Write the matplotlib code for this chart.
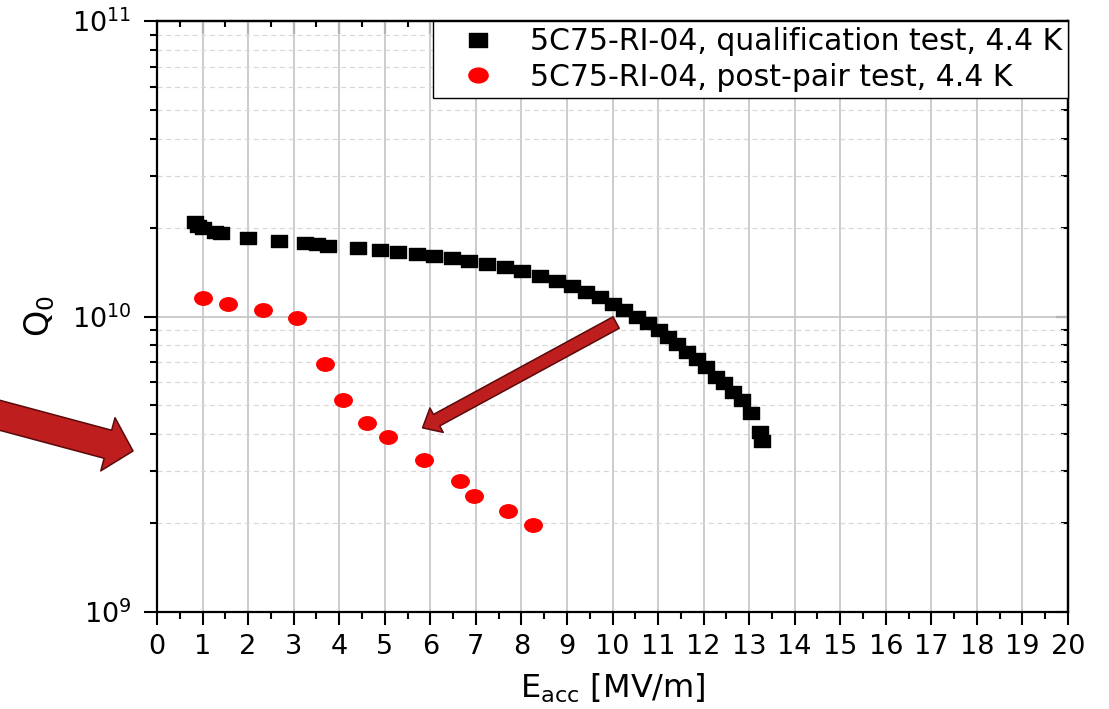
#!/usr/bin/env python
# plot Q0 vs Eacc for 5C75-RI-04, qualification and post-repair tests

import matplotlib
matplotlib.use('Agg')

import matplotlib.pyplot as plt
import matplotlib.ticker as mticker
from matplotlib.path import Path
from matplotlib.transforms import Affine2D

plt.rcParams['font.family'] = ['DejaVu Sans']
plt.rcParams['mathtext.fontset'] = 'dejavusans'
plt.rcParams['mathtext.default'] = 'regular'

# qualification test, 4.4 K
e_qual = [0.83, 0.90, 1.01, 1.27, 1.40, 2.00, 2.68, 3.25, 3.51, 3.75, 4.41,
          4.90, 5.29, 5.71, 6.08, 6.48, 6.85, 7.25, 7.64, 8.01, 8.41, 8.78,
          9.11, 9.42, 9.73, 10.01, 10.25, 10.54, 10.78, 11.02, 11.22, 11.42,
          11.64, 11.86, 12.05, 12.27, 12.45, 12.65, 12.84, 13.04, 13.24, 13.28]
q_qual = [2.09e10, 2.02e10, 1.99e10, 1.93e10, 1.92e10, 1.84e10, 1.80e10,
          1.77e10, 1.76e10, 1.73e10, 1.70e10, 1.68e10, 1.65e10, 1.63e10,
          1.60e10, 1.58e10, 1.54e10, 1.51e10, 1.47e10, 1.43e10, 1.37e10,
          1.32e10, 1.27e10, 1.21e10, 1.16e10, 1.10e10, 1.05e10, 1.00e10,
          9.5e9, 9.0e9, 8.5e9, 8.1e9, 7.6e9, 7.2e9, 6.75e9, 6.25e9, 5.95e9,
          5.55e9, 5.2e9, 4.7e9, 4.05e9, 3.8e9]

# post-pair test, 4.4 K
e_post = [1.01, 1.56, 2.33, 3.07, 3.69, 4.08, 4.61, 5.07, 5.86, 6.65, 6.96,
          7.71, 8.26]
q_post = [1.155e10, 1.10e10, 1.05e10, 9.9e9, 6.9e9, 5.2e9, 4.35e9, 3.9e9,
          3.27e9, 2.78e9, 2.47e9, 2.2e9, 1.97e9]

label_qual = '5C75-RI-04, qualification test, 4.4 K'
label_post = '5C75-RI-04, post-pair test, 4.4 K'

# arrow in the plot (data coords) and arrow left of the plot (figure pixels)
arrow_in_from = (10.08, 9.54e9)
arrow_in_to = (5.83, 4.2e9)
arrow_out_from = (-5, 295)
arrow_out_to = (133, 258)

# slightly wide markers, the original picture is stretched sideways
sq = Path.unit_rectangle().transformed(Affine2D().translate(-0.5, -0.5).scale(1.25, 1.0))
ell = Path.unit_circle().transformed(Affine2D().scale(1.3, 1.0))

fig = plt.figure(figsize=(11.09, 7.09), dpi=100)
ax = fig.add_axes([157 / 1109, 1 - 612 / 709, 911 / 1109, 591 / 709])

ax.plot(e_qual, q_qual, linestyle='None', marker=sq, markersize=11.2,
        color='black', label=label_qual, zorder=3)
ax.plot(e_post, q_post, linestyle='None', marker=ell, markersize=12.6,
        color='#ff0000', label=label_post, zorder=3)

ax.set_yscale('log')
ax.set_xlim(0, 20)
ax.set_ylim(1e9, 1e11)
ax.xaxis.set_major_locator(mticker.MultipleLocator(1))
ax.xaxis.set_minor_locator(mticker.MultipleLocator(0.5))
ax.yaxis.set_major_locator(mticker.LogLocator(base=10))
ax.yaxis.set_minor_locator(mticker.LogLocator(base=10, subs=range(2, 10)))
ax.yaxis.set_minor_formatter(mticker.NullFormatter())

ax.grid(which='major', color='#c8c8c8', linewidth=1.3, linestyle='-')
ax.grid(which='minor', axis='y', color='#d8d8d8', linewidth=0.9,
        linestyle=(0, (4, 3)))
ax.set_axisbelow(True)

for sp in ax.spines.values():
    sp.set_linewidth(1.6)
ax.tick_params(which='major', direction='out', length=9.5, width=1.5,
               labelsize=19.5)
ax.tick_params(which='minor', direction='out', length=5, width=1.5)
ax.tick_params(axis='x', which='major', pad=6)
ax.tick_params(axis='y', which='major', pad=9)

# top and right: inward ticks only
top = ax.secondary_xaxis('top')
top.xaxis.set_major_locator(mticker.MultipleLocator(1))
top.xaxis.set_minor_locator(mticker.MultipleLocator(0.5))
top.tick_params(which='major', direction='in', length=9, width=1.5, labeltop=False)
top.tick_params(which='minor', direction='in', length=4, width=1.5)
right = ax.secondary_yaxis('right')
right.yaxis.set_minor_locator(mticker.LogLocator(base=10, subs=range(2, 10)))
right.yaxis.set_minor_formatter(mticker.NullFormatter())
right.tick_params(which='major', direction='in', length=9, width=1.5, labelright=False)
right.tick_params(which='minor', direction='in', length=5, width=1.5)
for sa in (top, right):
    for sp in sa.spines.values():
        sp.set_linewidth(1.6)

ax.set_xlabel('E$_{acc}$ [MV/m]', fontsize=23, labelpad=9)
ax.set_ylabel('Q$_{0}$', fontsize=24)
ax.yaxis.set_label_coords(-0.11, 0.5)

leg = ax.legend(loc='upper right', fontsize=21.5, borderaxespad=0,
                fancybox=False, framealpha=1, edgecolor='black',
                handlelength=2.6, handletextpad=0.45, borderpad=0.2,
                labelspacing=0.22, markerscale=1.1)
leg.get_frame().set_linewidth(1.0)

arrow_fc = '#be1e1e'
arrow_ec = '#5a0a0a'
ax.annotate('', xy=arrow_in_to, xytext=arrow_in_from, xycoords='data',
            arrowprops=dict(arrowstyle='simple,head_length=11.5,head_width=20,tail_width=9.4',
                            mutation_scale=1, fc=arrow_fc, ec=arrow_ec, lw=1.1,
                            shrinkA=0, shrinkB=0), zorder=4)
ax.annotate('', xy=arrow_out_to, xytext=arrow_out_from, xycoords='figure pixels',
            arrowprops=dict(arrowstyle='simple,head_length=18.7,head_width=39.6,tail_width=20.9',
                            mutation_scale=1, fc=arrow_fc, ec=arrow_ec, lw=1.1,
                            shrinkA=0, shrinkB=0), annotation_clip=False)

plt.savefig('out.png', dpi=100)
